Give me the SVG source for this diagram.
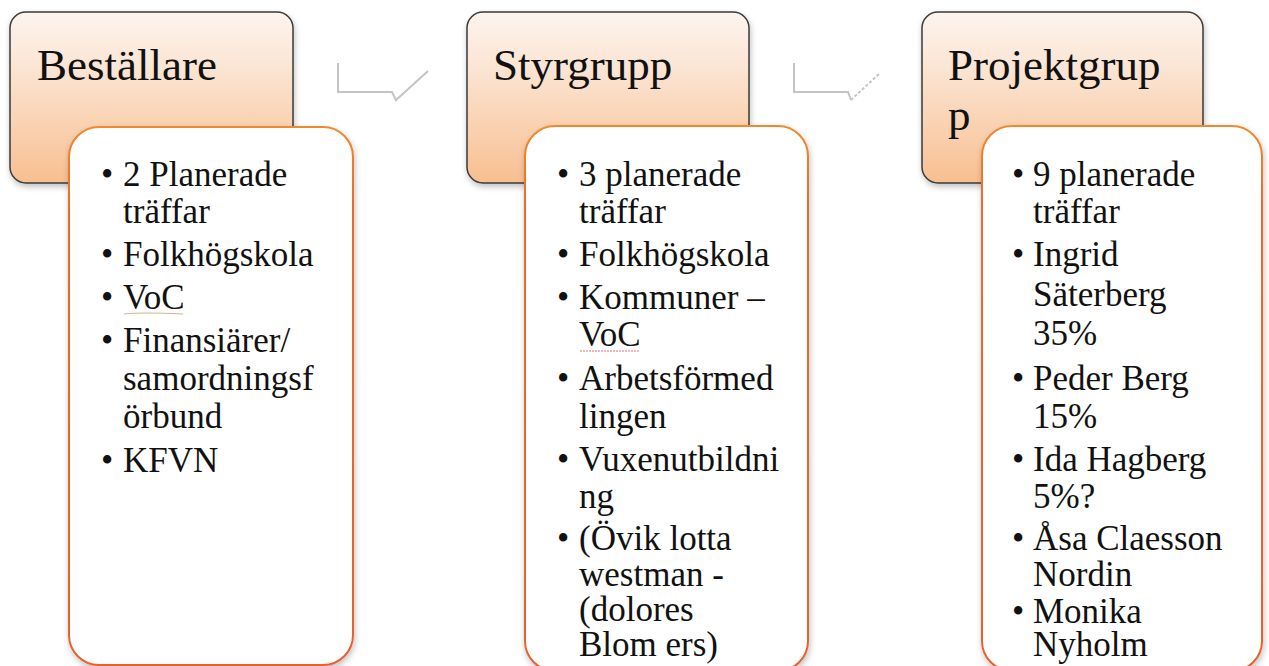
<svg xmlns="http://www.w3.org/2000/svg" width="1269" height="666" viewBox="0 0 1269 666">
<defs>
<linearGradient id="hg" x1="0" y1="0" x2="0" y2="1">
<stop offset="0" stop-color="#fdf4ee"/>
<stop offset="0.3" stop-color="#fbe6d6"/>
<stop offset="1" stop-color="#f8bf90"/>
</linearGradient>
<linearGradient id="bs" x1="0" y1="0" x2="0" y2="1">
<stop offset="0" stop-color="#f08a2c"/>
<stop offset="0.15" stop-color="#eb6a2c"/>
<stop offset="1" stop-color="#e8602a"/>
</linearGradient>
<filter id="sh" x="-10%" y="-10%" width="130%" height="130%">
<feGaussianBlur in="SourceAlpha" stdDeviation="3"/>
<feOffset dx="1" dy="3"/>
<feComponentTransfer><feFuncA type="linear" slope="0.25"/></feComponentTransfer>
<feMerge><feMergeNode/><feMergeNode in="SourceGraphic"/></feMerge>
</filter>
</defs>
<style>
.hdr{fill:url(#hg);stroke:#3a3a3a;stroke-width:1.5}
.body{fill:#ffffff;stroke:url(#bs);stroke-width:2}
.ht{font-family:"Liberation Serif","Times New Roman",serif;font-size:45px;fill:#111}
.bt{font-family:"Liberation Serif","Times New Roman",serif;font-size:35px;fill:#111}
.arr{fill:none;stroke:#c4c4c4;stroke-width:2}
</style>
<rect width="1269" height="666" fill="#ffffff"/>

<g id="connectors">
<path class="arr" d="M338,63 L338,92 L392,92 L396,100 L428,71"/>
<path class="arr" d="M794,63 L794,92 L848,92 L851,100"/>
<path class="arr" d="M851,100 L880,73" stroke-dasharray="3,2"/>
</g>

<g id="node-bestallare">
<rect class="hdr" x="10" y="12" width="283" height="171" rx="16" filter="url(#sh)"/>
<text class="ht" x="37" y="80">Beställare</text>
<rect class="body" x="69" y="127" width="284" height="538" rx="30" filter="url(#sh)"/>
<g class="bt">
<text x="101" y="186">•</text><text x="123" y="186">2 Planerade</text>
<text x="123" y="223">träffar</text>
<text x="101" y="266">•</text><text x="123" y="266">Folkhögskola</text>
<text x="101" y="309">•</text><text x="123" y="309">VoC</text>
<text x="101" y="352">•</text><text x="123" y="352">Finansiärer/</text>
<text x="123" y="390">samordningsf</text>
<text x="123" y="428">örbund</text>
<text x="101" y="472">•</text><text x="123" y="472">KFVN</text>
</g>
<path d="M124,314 Q140,312 183,314" fill="none" stroke="#c9b98a" stroke-width="1.2"/>
</g>

<g id="node-styrgrupp">
<rect class="hdr" x="467" y="12" width="282" height="171" rx="16" filter="url(#sh)"/>
<text class="ht" x="493" y="80">Styrgrupp</text>
<rect class="body" x="525" y="126" width="283" height="545" rx="30" filter="url(#sh)"/>
<g class="bt">
<text x="557" y="186">•</text><text x="579" y="186">3 planerade</text>
<text x="579" y="223">träffar</text>
<text x="557" y="266">•</text><text x="579" y="266">Folkhögskola</text>
<text x="557" y="309">•</text><text x="579" y="309">Kommuner –</text>
<text x="579" y="346">VoC</text>
<text x="557" y="390">•</text><text x="579" y="390">Arbetsförmed</text>
<text x="579" y="428">lingen</text>
<text x="557" y="471">•</text><text x="579" y="471">Vuxenutbildni</text>
<text x="579" y="508">ng</text>
<text x="557" y="550">•</text><text x="579" y="550">(Övik lotta</text>
<text x="579" y="586">westman -</text>
<text x="579" y="621">(dolores</text>
<text x="579" y="656">Blom ers)</text>
</g>
<path d="M580,351 L640,351" fill="none" stroke="#e07070" stroke-width="1" stroke-dasharray="2,1"/>
</g>

<g id="node-projektgrupp">
<rect class="hdr" x="922" y="12" width="281" height="171" rx="16" filter="url(#sh)"/>
<text class="ht" x="948" y="80">Projektgrup</text>
<text class="ht" x="948" y="130">p</text>
<rect class="body" x="982" y="126" width="280" height="545" rx="30" filter="url(#sh)"/>
<g class="bt">
<text x="1012" y="186">•</text><text x="1033" y="186">9 planerade</text>
<text x="1033" y="223">träffar</text>
<text x="1012" y="266">•</text><text x="1033" y="266">Ingrid</text>
<text x="1033" y="306">Säterberg</text>
<text x="1033" y="345">35%</text>
<text x="1012" y="390">•</text><text x="1033" y="390">Peder Berg</text>
<text x="1033" y="428">15%</text>
<text x="1012" y="471">•</text><text x="1033" y="471">Ida Hagberg</text>
<text x="1033" y="508">5%?</text>
<text x="1012" y="550">•</text><text x="1033" y="550">Åsa Claesson</text>
<text x="1033" y="586">Nordin</text>
<text x="1012" y="623">•</text><text x="1033" y="623">Monika</text>
<text x="1033" y="656">Nyholm</text>
</g>
</g>
</svg>
